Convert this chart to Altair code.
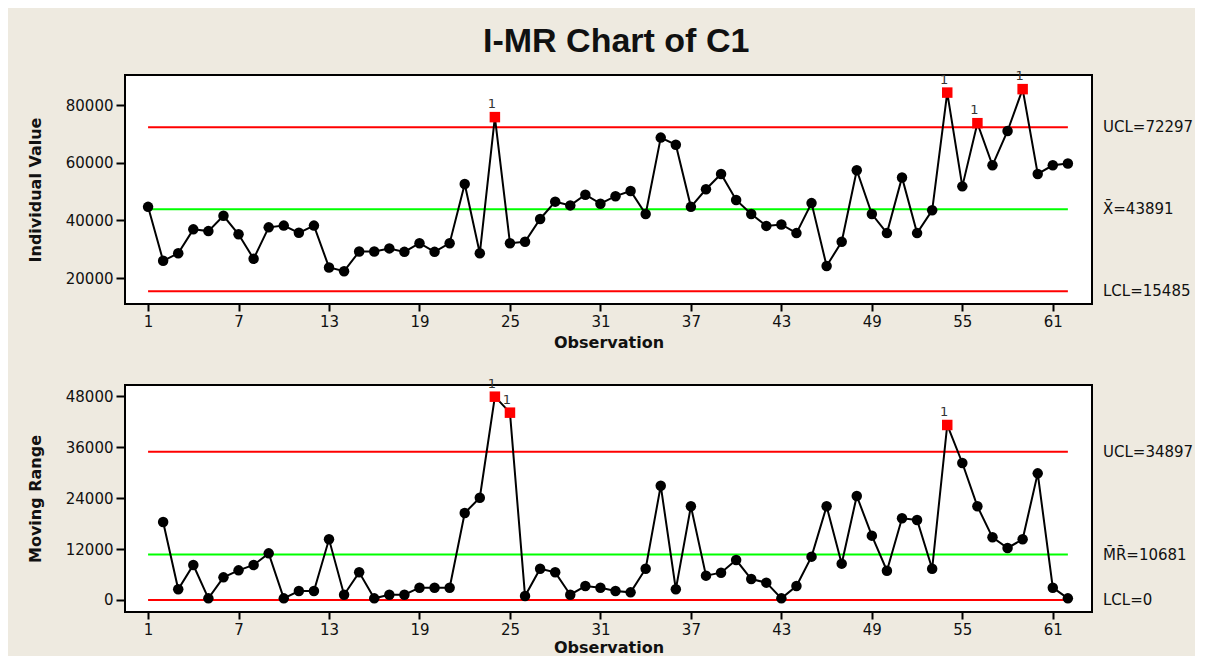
import altair as alt
import pandas as pd

# ---------------- data ----------------
obs = list(range(1, 63))
ind_vals = [44700, 26000, 28600, 36900, 36300, 41600, 35200, 26700, 37600, 38200,
            35700, 38200, 23700, 22400, 29200, 29200, 30300, 29100, 32100, 29100,
            32100, 52600, 28600, 75800, 32100, 32600, 40500, 46500, 45200, 48900,
            45800, 48400, 50200, 42200, 68700, 66200, 44700, 50800, 56100, 47100,
            42200, 38100, 38600, 35600, 46000, 24200, 32600, 57400, 42200, 35600,
            54900, 35600, 43500, 84300, 51800, 73700, 59100, 71000, 85500, 56100,
            59100, 59700]
mr_obs = list(range(2, 63))
mr_vals = [18350, 2510, 8240, 390, 5330, 6980, 8240, 10980, 390, 2120,
           2120, 14280, 1250, 6510, 390, 1250, 1250, 2900, 2900, 2900,
           20470, 24070, 47840, 44080, 940, 7370, 6510, 1250, 3290, 2900,
           2120, 1800, 7370, 26900, 2510, 22040, 5730, 6430, 9410, 4940,
           4080, 390, 3290, 10200, 22040, 8550, 24470, 15140, 6900, 19220,
           18820, 7370, 41180, 32240, 22040, 14750, 12240, 14280, 29800, 2900,
           390]
ind_flag_obs = [24, 54, 56, 59]
mr_flag_obs = [24, 25, 54]

ind_limits = [72297, 43891, 15485]
ind_limit_labels = ["UCL=72297", "X\u0304=43891", "LCL=15485"]
mr_limits = [34897, 10681, 0]
mr_limit_labels = ["UCL=34897", "M\u0304R\u0304=10681", "LCL=0"]
limit_colors = ["#FF0000", "#00FF00", "#FF0000"]

x_ticks = [1, 7, 13, 19, 25, 31, 37, 43, 49, 55, 61]
ind_ticks = [20000, 40000, 60000, 80000]
mr_ticks = [0, 12000, 24000, 36000, 48000]

W = 967
FONT = "DejaVu Sans"


def panel(xs, ys, flags, lims, lim_labels, y_title, y_domain, y_ticks, height, x_title_pad):
    df = pd.DataFrame({"obs": xs, "val": ys})
    df["flag"] = df["obs"].isin(flags)
    lim = pd.DataFrame({"value": lims, "label": lim_labels, "color": limit_colors,
                        "x1": [obs[0]] * 3, "x2": [obs[-1]] * 3})

    xscale = alt.Scale(domain=[-0.53, 63.6], nice=False, zero=False)
    xaxis = alt.Axis(values=x_ticks, title="Observation", format="d",
                     titlePadding=x_title_pad)
    yscale = alt.Scale(domain=y_domain, nice=False, zero=False)
    yaxis = alt.Axis(values=y_ticks, title=y_title, format="d")

    x = alt.X("obs:Q", scale=xscale, axis=xaxis)
    y = alt.Y("val:Q", scale=yscale, axis=yaxis)

    base = alt.Chart(df)
    rules = alt.Chart(lim).mark_rule(strokeWidth=2).encode(
        x=alt.X("x1:Q", scale=xscale, axis=xaxis), x2="x2:Q",
        y=alt.Y("value:Q", scale=yscale, axis=yaxis),
        color=alt.Color("color:N", scale=None),
    )
    line = base.mark_line(color="black", strokeWidth=2).encode(x=x, y=y)
    pts = base.transform_filter("!datum.flag").mark_circle(
        size=110, color="black", opacity=1).encode(x=x, y=y)
    sq = base.transform_filter("datum.flag").mark_square(
        size=110, color="#FF0000", opacity=1).encode(x=x, y=y)
    ones = base.transform_filter("datum.flag").mark_text(
        text="1", dx=-3, dy=-13, fontSize=13, font=FONT, color="#333333").encode(x=x, y=y)
    labels = alt.Chart(lim).mark_text(
        align="left", baseline="middle", fontSize=15, font=FONT, color="#111111"
    ).encode(x=alt.value(W + 11), y=alt.Y("value:Q", scale=yscale, axis=yaxis),
             text="label:N")
    return alt.layer(rules, line, pts, sq, ones, labels).properties(width=W, height=height)


top = panel(obs, ind_vals, ind_flag_obs, ind_limits, ind_limit_labels,
            "Individual Value", [11030, 90400], ind_ticks, 229, 5)
bottom = panel(mr_obs, mr_vals, mr_flag_obs, mr_limits, mr_limit_labels,
               "Moving Range", [-2824, 50590], mr_ticks, 227, 2)

chart = alt.vconcat(top, bottom, spacing=81, bounds="flush").properties(
    title=alt.TitleParams("I-MR Chart of C1", anchor="middle", dx=6, offset=10,
                          font="Liberation Sans", fontSize=34, fontWeight="bold",
                          color="#111111"),
    padding={"left": 18, "top": 17, "right": 0, "bottom": 0},
    background="#EEEAE0",
).configure_view(
    stroke="black", strokeWidth=2, fill="white"
).configure_axis(
    grid=False, domain=False, tickColor="black", tickWidth=2,
    labelFont=FONT, labelFontSize=15, labelColor="#111111",
    titleFont=FONT, titleFontSize=16, titleFontWeight="bold", titleColor="#111111",
).configure_axisX(
    tickSize=7, labelPadding=3
).configure_axisY(
    tickSize=9, labelPadding=3, titlePadding=22, titleFontSize=16
)

chart.save("out.html", embed_options={"renderer": "svg", "actions": False})
